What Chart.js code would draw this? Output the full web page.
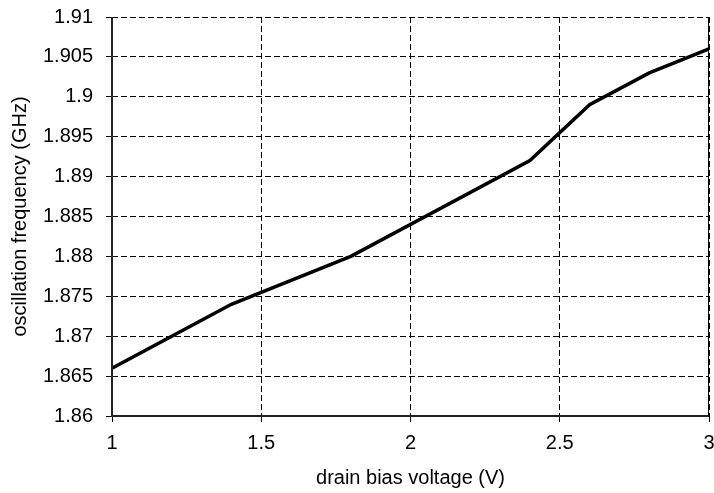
<!DOCTYPE html>
<html>
<head>
<meta charset="utf-8">
<script src="https://cdn.jsdelivr.net/npm/chart.js@4/dist/chart.umd.min.js"></script>
<style>
  html, body { margin: 0; padding: 0; background: #fff; }
  #wrap { width: 714px; height: 493px; }
</style>
</head>
<body>
<div id="wrap"><canvas id="c" width="714" height="493"></canvas></div>
<script>
// Drain bias voltage (V) and measured oscillation frequency (GHz)
const drainVoltage = [1.0, 1.4, 1.8, 2.4, 2.6, 2.8, 3.0];
const oscFrequency = [1.866, 1.874, 1.880, 1.892, 1.899, 1.903, 1.906];

const xTickValues = [1, 1.5, 2, 2.5, 3];
const xTickLabels = ['1', '1.5', '2', '2.5', '3'];
const yTickValues = [1.86, 1.865, 1.87, 1.875, 1.88, 1.885, 1.89, 1.895, 1.9, 1.905, 1.91];
const yTickLabels = ['1.86', '1.865', '1.87', '1.875', '1.88', '1.885', '1.89', '1.895', '1.9', '1.905', '1.91'];

const xTitle = 'drain bias voltage (V)';
const yTitle = 'oscillation frequency (GHz)';

const points = drainVoltage.map((v, i) => ({ x: v, y: oscFrequency[i] }));

const FONT = 'Liberation Sans, Arial, sans-serif';

// solid axis lines (left, bottom) and a thin frame line on the right
const plotFrame = {
  id: 'plotFrame',
  afterDatasetsDraw(chart) {
    const { ctx, chartArea: a } = chart;
    ctx.save();
    ctx.setLineDash([]);
    ctx.strokeStyle = '#000';
    ctx.lineWidth = 1;
    const r = Math.round(a.right) - 0.5;
    ctx.beginPath();
    ctx.moveTo(r, a.top);
    ctx.lineTo(r, a.bottom);
    ctx.stroke();

    ctx.strokeStyle = '#222';
    ctx.lineWidth = 2;
    const l = Math.round(a.left);
    const b = Math.round(a.bottom);
    ctx.beginPath();
    ctx.moveTo(l, a.top);
    ctx.lineTo(l, b);
    ctx.lineTo(Math.round(a.right), b);
    ctx.stroke();
    ctx.restore();
  }
};

const gridOpts = {
  color: '#000',
  lineWidth: 1,
  tickLength: 6,
  tickColor: '#000',
  tickBorderDash: []
};

new Chart(document.getElementById('c'), {
  type: 'line',
  data: {
    datasets: [{
      data: points,
      borderColor: '#000',
      borderWidth: 3.5,
      pointRadius: 0,
      tension: 0,
      fill: false
    }]
  },
  options: {
    responsive: false,
    animation: false,
    layout: { padding: { top: 17, right: 5, left: 0, bottom: 0 } },
    plugins: { legend: { display: false }, tooltip: { enabled: false } },
    scales: {
      x: {
        type: 'linear',
        min: 1,
        max: 3,
        afterBuildTicks(scale) { scale.ticks = xTickValues.map(v => ({ value: v })); },
        afterFit(scale) {
          scale.height = 77;
          scale.paddingLeft = 0;
          scale.paddingRight = 0;
        },
        ticks: {
          color: '#000',
          font: { family: FONT, size: 20 },
          padding: 9,
          maxRotation: 0,
          autoSkip: false,
          callback: (v, i) => xTickLabels[i]
        },
        grid: gridOpts,
        border: { display: false, dash: [6, 3] },
        title: {
          display: true,
          text: xTitle,
          color: '#000',
          font: { family: FONT, size: 20 },
          padding: { top: 0, bottom: 3 }
        }
      },
      y: {
        type: 'linear',
        min: 1.86,
        max: 1.91,
        afterBuildTicks(scale) { scale.ticks = yTickValues.map(v => ({ value: v })); },
        afterFit(scale) {
          scale.width = 112;
          scale.paddingTop = 0;
          scale.paddingBottom = 0;
        },
        ticks: {
          color: '#000',
          font: { family: FONT, size: 20 },
          padding: 13,
          autoSkip: false,
          callback: (v, i) => yTickLabels[i]
        },
        grid: gridOpts,
        border: { display: false, dash: [6, 3] },
        title: {
          display: true,
          text: yTitle,
          color: '#000',
          font: { family: FONT, size: 20 },
          padding: { top: 8, bottom: 0 }
        }
      }
    }
  },
  plugins: [plotFrame]
});
</script>
</body>
</html>
